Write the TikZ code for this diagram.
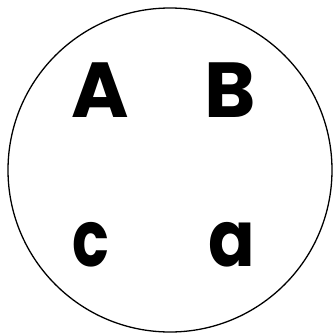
\documentclass[tikz,border=0pt]{standalone}
\usepackage{fontspec}
\usepackage{graphicx}
\newfontfamily\letterfont{Poppins}[UprightFont=* Bold]
\begin{document}
\begin{tikzpicture}[x=1pt,y=-1pt,
  letter/.style={inner sep=0pt, font=\letterfont\fontsize{78}{80}\selectfont}]
\useasboundingbox (0,0) rectangle (333,335);
\node[draw, circle, line width=1.3pt, minimum size=324pt, inner sep=0pt] (ring) at (170,170) {};
\node[letter] (A) at (100,90) {A};
\node[letter] (B) at (230,90) {B};
\node[letter] (c) at (91,245) {\scalebox{0.78}[1]{c}};
\node[letter] (a) at (232,245) {\scalebox{0.88}[1]{a}};
\end{tikzpicture}
\end{document}
